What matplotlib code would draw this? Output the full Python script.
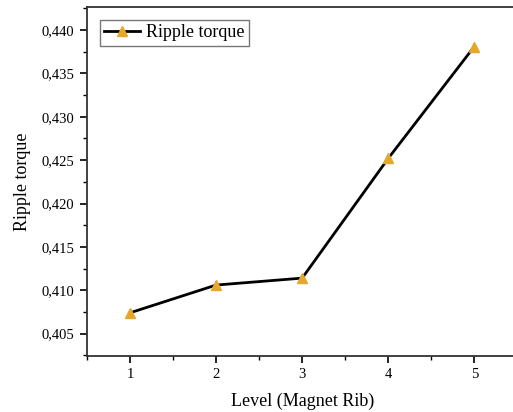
import matplotlib
matplotlib.use("Agg")
import matplotlib.pyplot as plt
from matplotlib.ticker import FuncFormatter, MultipleLocator

levels = [1, 2, 3, 4, 5]
ripple = [0.4074, 0.4106, 0.4114, 0.4252, 0.4381]

plt.rcParams['font.family'] = ['Liberation Serif', 'DejaVu Serif']

fig = plt.figure(figsize=(5.13, 4.12), dpi=100)
ax = fig.add_axes([87 / 513, 1 - 356 / 412, (517.3 - 87) / 513, (356 - 7) / 412])

ax.plot(levels, ripple, color='black', linewidth=2, marker='^', markersize=7,
        markerfacecolor='#E5A82A', markeredgecolor='#E5A82A', label='Ripple torque')

ax.set_xlim(0.5, 5.5)
ax.set_ylim(0.40242, 0.44266)
ax.xaxis.set_major_locator(MultipleLocator(1))
ax.xaxis.set_minor_locator(MultipleLocator(0.5))
ax.yaxis.set_major_locator(MultipleLocator(0.005))
ax.yaxis.set_minor_locator(MultipleLocator(0.0025))
ax.yaxis.set_major_formatter(FuncFormatter(lambda v, p: f"{v:.3f}".replace('.', ',')))

ax.tick_params(which='major', direction='out', length=5, width=1.2, labelsize=10.5, pad=4)
ax.tick_params(which='minor', direction='out', length=3, width=1.0)
for s in ax.spines.values():
    s.set_linewidth(1.3)
    s.set_color('#333333')

ax.set_xlabel('Level (Magnet Rib)', fontsize=13, labelpad=8)
ax.set_ylabel('Ripple torque', fontsize=13, labelpad=8)

leg = ax.legend(loc='upper left', fontsize=13, frameon=True, fancybox=False,
                edgecolor='#555555', borderpad=0.25, handlelength=2.0,
                handletextpad=0.3, borderaxespad=0.7)
leg.get_frame().set_linewidth(1.0)

fig.savefig('out.png', dpi=100)
